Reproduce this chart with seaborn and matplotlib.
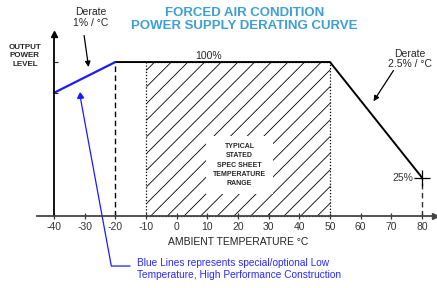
import numpy as np
import pandas as pd
import matplotlib
matplotlib.use("Agg")
import matplotlib.pyplot as plt
import seaborn as sns
from matplotlib.patches import Rectangle

# ---- data ----
temps_main = [-20, 50, 80]
power_main = [100, 100, 25]
temps_low = [-40, -20]
power_low = [80, 100]
x_ticks = [-40, -30, -20, -10, 0, 10, 20, 30, 40, 50, 60, 70, 80]
y_ticks = [80, 100]
spec_range = [-10, 50]

sns.set_style("white")
plt.rcParams['font.family'] = ['Liberation Sans', 'DejaVu Sans']
plt.rcParams['hatch.linewidth'] = 0.6

fig = plt.figure(figsize=(4.37, 2.88), dpi=100)
ax = fig.add_axes([0, 0, 1, 1])
ax.set_xlim(-57.6, 84.9)
ax.set_ylim(-46.75, 140.3)

# axes drawn through the data origin
for s in ['top', 'right']:
    ax.spines[s].set_visible(False)
ax.spines['bottom'].set_position(('data', 0))
ax.spines['left'].set_position(('data', -40))
ax.spines['bottom'].set_bounds(-45.5, 84)
ax.spines['left'].set_bounds(0, 117)
ax.spines['bottom'].set_color('#444444')
ax.spines['left'].set_color('black')
ax.spines['bottom'].set_linewidth(1.3)
ax.spines['left'].set_linewidth(1.3)
ax.plot(84.3, 0, marker='>', color='#444444', ms=5, clip_on=False)
ax.plot(-40, 118.5, marker='^', color='black', ms=5, clip_on=False)

ax.set_xticks(x_ticks)
ax.set_xticklabels([str(t) for t in x_ticks])
ax.tick_params(axis='x', direction='inout', length=5, width=0.9, pad=2,
               labelsize=7.5, colors='#333333', bottom=True)
ax.set_yticks(y_ticks)
ax.set_yticklabels([])
ax.tick_params(axis='y', direction='in', length=3, width=0.8, left=True)

# spec sheet range: hatched box with dotted edges
rng = Rectangle((spec_range[0], 0), spec_range[1] - spec_range[0], 100,
                facecolor='none', edgecolor='black', hatch='//',
                linestyle=(0, (1, 1.5)), linewidth=0.9)
ax.add_patch(rng)

# dashed guides
ax.vlines(temps_main[0], 0, power_main[0], colors='black', linestyles=(0, (4, 2.5)), lw=1)
ax.vlines(temps_main[-1], 0, power_main[-1], colors='#333333', linestyles=(0, (4, 2.5)), lw=1)

# derating curves
sns.lineplot(x=temps_main, y=power_main, color='black', lw=1.4, ax=ax)
sns.lineplot(x=temps_low, y=power_low, color='#1a1aff', lw=1.6, ax=ax)
ax.scatter([temps_main[-1]], [power_main[-1]], marker='+', s=120, color='black', lw=0.9, zorder=5)

# text
fig.text(0.56, 0.975, "FORCED AIR CONDITION\nPOWER SUPPLY DERATING CURVE",
         ha='center', va='top', color='#3d9fd3', fontsize=9.5, fontweight='bold',
         linespacing=1.05)
ax.text(-49.5, 112, "OUTPUT\nPOWER\nLEVEL", ha='center', va='top', fontsize=5.8,
        fontweight='bold', linespacing=1.35)
ax.text(-27.9, 129, "Derate\n1% / °C", ha='center', va='center', fontsize=7.5,
        linespacing=1.15)
ax.annotate("", xy=(-28.6, 95), xytext=(-30.3, 119),
            arrowprops=dict(arrowstyle='-|>', color='black', lw=0.9, mutation_scale=8))
ax.text(76.1, 102, "Derate\n2.5% / °C", ha='center', va='center', fontsize=7.5,
        linespacing=1.0)
ax.annotate("", xy=(63.7, 73), xytext=(71.2, 96),
            arrowprops=dict(arrowstyle='-|>', color='black', lw=0.9, mutation_scale=8))
ax.text(10.5, 101, "100%", ha='center', va='bottom', fontsize=7.5)
ax.text(77.3, power_main[-1], "25%", ha='right', va='center', fontsize=7.5, color='#333333')
ax.text(20.5, 33, "TYPICAL\nSTATED\nSPEC SHEET\nTEMPERATURE\nRANGE", ha='center',
        va='center', fontsize=5.0, fontweight='bold', linespacing=1.45,
        bbox=dict(facecolor='white', edgecolor='none', pad=5))
ax.text(20, -17, "AMBIENT TEMPERATURE °C", ha='center', va='center', fontsize=7.5,
        color='#222222')

# blue footnote with leader line
ax.plot([-15.2, -21.3, -31.5], [-32.5, -32.5, 78], color='#1a1aff', lw=0.9)
ax.plot(-31.5, 78, marker=(3, 0, 5), color='#1a1aff', ms=5)
ax.text(-12.9, -34.7, "Blue Lines represents special/optional Low\nTemperature, High Performance Construction",
        ha='left', va='center', fontsize=7.3, color='#2a2aff', linespacing=1.25)

fig.savefig("out.png", dpi=100)
